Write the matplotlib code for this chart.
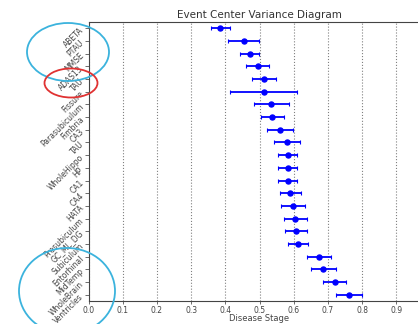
import matplotlib
matplotlib.use("Agg")
import matplotlib.pyplot as plt
import numpy as np
from matplotlib.patches import Ellipse

# biomarker names, top to bottom
labels = ["ABETA", "PTAU", "MMSE", "ADAS13", "TAU", "Fissure", "Parasubiculum",
          "Fimbria", "CA3", "TAU", "WholeHippo", "HP", "CA1", "CA4", "HATA",
          "Presubiculum", "GC_ML_DG", "Subiculum", "Entorhinal", "MidTemp",
          "WholeBrain", "Ventricles"]

# event centre (disease stage) and its spread
centers = [0.385, 0.454, 0.471, 0.495, 0.513, 0.513, 0.535, 0.538, 0.559, 0.580,
           0.582, 0.582, 0.582, 0.590, 0.598, 0.605, 0.607, 0.613, 0.674, 0.687,
           0.720, 0.763]
spread = [0.028, 0.045, 0.028, 0.034, 0.035, 0.098, 0.051, 0.035, 0.038, 0.039,
          0.028, 0.028, 0.028, 0.031, 0.036, 0.033, 0.031, 0.030, 0.036, 0.036,
          0.033, 0.038]

# x ticks; 1.0 sits past the right edge of the picture
xticks = [0.0, 0.1, 0.2, 0.3, 0.4, 0.5, 0.6, 0.7, 0.8, 0.9]

W, H = 418, 324
fig = plt.figure(figsize=(W / 100, H / 100), dpi=100)
ax = fig.add_axes([88.5 / W, 23 / H, 342 / W, 279 / H])

y = np.arange(len(labels))
ax.errorbar(centers, y, xerr=spread, fmt='o', color='b', markersize=3.6,
            elinewidth=1.3, capsize=1.5, capthick=0.8)

ax.set_xlim(0, 1.0)
ax.set_ylim(len(labels) - 0.5, -0.5)
ax.set_xticks(xticks)
ax.set_xticklabels([f"{v:.1f}" for v in xticks], fontsize=5.5, color='#444444')
ax.set_yticks(y)
ax.set_yticklabels(labels, rotation=45, ha='right', fontsize=5.5,
                   rotation_mode='anchor', color='#444444')
ax.tick_params(length=3, width=0.6, pad=2, color='#555555')
ax.tick_params(axis='x', length=2.5, pad=1)
ax.xaxis.grid(True, linestyle=':', color='gray', linewidth=0.8)
ax.set_axisbelow(True)
for s in ax.spines.values():
    s.set_linewidth(0.8)
    s.set_color('#444444')

ax.set_title("Event Center Variance Diagram", fontsize=7.5, pad=3,
             color='#333333')
ax.set_xlabel("Disease Stage", fontsize=6, color='#444444')
ax.xaxis.set_label_coords(0.5, -0.048)

# hand-drawn highlight circles, in pixel positions of the figure
def ring(cx, cy, w, h, color):
    fig.patches.append(Ellipse((cx / W, 1 - cy / H), w / W, h / H,
                               transform=fig.transFigure, fill=False,
                               edgecolor=color, linewidth=1.3))

ring(68, 52, 82, 58, '#3bb3dd')
ring(71, 83, 53, 29, '#e03232')
ring(67, 291, 96, 86, '#3bb3dd')

fig.savefig("out.png", dpi=100)
